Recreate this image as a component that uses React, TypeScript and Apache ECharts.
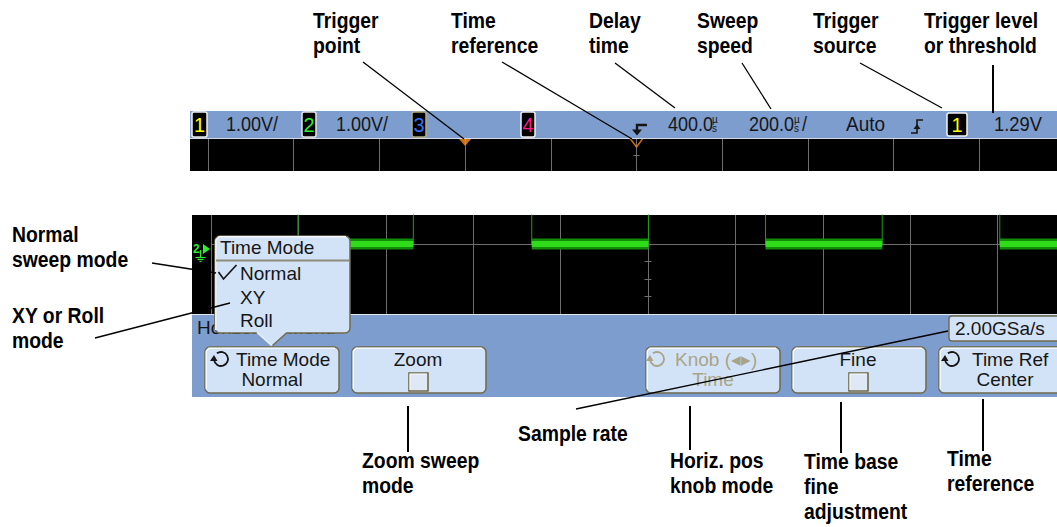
import { useEffect, useRef } from 'react';
import * as echarts from 'echarts';

// ---------------- data ----------------
const sweepStart = -600; // µs at left graticule edge
const sweepEnd = 1400; // µs at right graticule edge (10 div)
const timePerDiv = 200; // µs / div
const triggerTime = 0; // µs
const timeRefTime = 400; // µs (delay time, screen centre)
const edgeTimes = [-401, -137, 134, 401, 669, 936, 1205]; // µs, channel 2 transitions
const lowLevel = 0; // div
const highLevel = 3.3; // div (off screen)
const initialLevel = highLevel;
const minorTickLevels = [-0.2, -0.4, -0.6]; // div, ticks on centre line
const stripTickLevels = [0.5];

// ---------------- derived series ----------------
const wave: any[] = [];
{
  let lvl = initialLevel;
  wave.push([sweepStart, lvl]);
  edgeTimes.forEach((t) => {
    wave.push([t, lvl]);
    lvl = lvl === highLevel ? lowLevel : highLevel;
    wave.push([t, lvl]);
  });
  wave.push([sweepEnd, lvl]);
}
const band: any[] = [];
for (let i = 0; i < wave.length - 1; i++) {
  const [t0, v0] = wave[i];
  const [t1, v1] = wave[i + 1];
  if (v0 === lowLevel && v1 === lowLevel && t1 > t0) {
    band.push([t0, v0], [t1, v1], [t1, '-']);
  }
}

// visible part of the sweep (picture is cropped at its right edge)
const PX_PER_DIV_STRIP = 85.7;
const PX_PER_DIV_WAVE = 87.4;
const stripLeft = 208;
const waveLeft = 211;
const stripVisibleEnd = sweepStart + ((1057 - stripLeft) / PX_PER_DIV_STRIP) * timePerDiv;
const waveVisibleEnd = sweepStart + ((1057 - waveLeft) / PX_PER_DIV_WAVE) * timePerDiv;

// ---------------- styling helpers ----------------
const BLUE = '#7d9dcf';
const LIGHT = '#d3e3f7';
const OLIVE = '#6f6a4b';
const INK = '#161616';
const GRAY_TXT = '#a8a488';
const SF = '"Liberation Sans", Arial, sans-serif';
const SCREEN = `19px ${SF}`;
const STATUS = `20px ${SF}`;
const ANN = `bold 22px ${SF}`;

function T(text: string, x: number, y: number, o: any = {}) {
  const align = o.align || 'left';
  return {
    type: 'text', x, y, z: o.z ?? 12, scaleX: o.sx ?? 1, silent: true,
    style: {
      text, fill: o.fill || INK, font: o.font || SCREEN,
      textAlign: align, textVerticalAlign: 'middle', align, verticalAlign: 'middle',
    },
  };
}
function R(x: number, y: number, w: number, h: number, fill: string, o: any = {}) {
  const style: any = { fill };
  if (o.stroke) { style.stroke = o.stroke; style.lineWidth = o.lw ?? 1; }
  return { type: 'rect', z: o.z ?? 0, silent: true, shape: { x, y, width: w, height: h, r: o.r ?? 0 }, style };
}
function L(x1: number, y1: number, x2: number, y2: number, stroke = '#000', lw = 1.3, z = 20) {
  return { type: 'line', z, silent: true, shape: { x1, y1, x2, y2 }, style: { stroke, lineWidth: lw } };
}
function PL(points: number[][], stroke: string, lw: number, z: number) {
  return { type: 'polyline', z, silent: true, shape: { points }, style: { stroke, lineWidth: lw, fill: 'none' } };
}
function PG(points: number[][], fill: string, z: number) {
  return { type: 'polygon', z, silent: true, shape: { points }, style: { fill } };
}
function button(x: number, y: number, w: number, h: number) {
  return [
    R(x, y, w, h, LIGHT, { r: 5, stroke: OLIVE, lw: 1.5, z: 11 }),
    PL([[x + 1.2, y + h - 4], [x + 1.2, y + 4], [x + 4, y + 1.2], [x + w - 4, y + 1.2]], '#f6f9fd', 1.4, 11.5),
  ];
}
function checkbox(x: number, y: number) {
  return [
    R(x, y, 19, 18, '#dfe8f5', { stroke: OLIVE, lw: 1.6, z: 12 }),
    PL([[x + 1, y + 17], [x + 1, y + 1], [x + 18, y + 1]], '#f7f9fc', 1.2, 12.5),
  ];
}
function knobIcon(cx: number, cy: number, color: string) {
  return [
    { type: 'arc', z: 12, silent: true, shape: { cx, cy, r: 7, startAngle: Math.PI * 1.3, endAngle: Math.PI * 0.95, clockwise: true }, style: { stroke: color, lineWidth: 1.8, fill: 'none' } },
    PG([[cx - 11, cy + 2], [cx - 3.5, cy + 2], [cx - 7, cy - 4]], color, 12),
  ];
}
function chBox(x: number, y: number, w: number, h: number, color: string, label: string, border: string) {
  return [
    R(x, y, w, h, '#000', { r: 2, stroke: border, lw: 1.5, z: 2 }),
    T(label, x + w / 2, y + h / 2 + 0.5, { fill: color, align: 'center', z: 3, font: STATUS }),
  ];
}
function ann(lines: string[], x: number, y0: number) {
  return lines.map((s, i) => T(s, x, y0 + i * 25, { font: ANN, fill: '#000', sx: 0.88, z: 20 }));
}

const graphics: any[] = [
  // ---- top status bar + strip ----
  R(190, 111, 867, 27, BLUE, { z: 0 }),
  L(190, 138.5, 1057, 138.5, '#d4d9e3', 1, 0.5),
  R(190, 139, 867, 32, '#000', { z: 0 }),
  ...chBox(192, 112, 15, 25, '#ffff00', '1', '#eeeeee'),
  ...chBox(302, 112, 14, 25, '#30ee30', '2', '#e6e6e6'),
  ...chBox(412, 112, 14, 25, '#3470ff', '3', '#b4ac7c'),
  ...chBox(521, 112, 14, 25, '#ff1a8c', '4', '#f2f2f2'),
  ...chBox(947, 113, 20, 23, '#ffff00', '1', '#f4f4f4'),
  T('1.00V/', 226, 124, { sx: 0.9, z: 3, font: STATUS }),
  T('1.00V/', 336, 124, { sx: 0.9, z: 3, font: STATUS }),
  T('400.0', 668, 124, { sx: 0.9, z: 3, font: STATUS }),
  T('µ', 712, 119, { font: `10px ${SF}`, z: 3 }),
  T('s', 712, 128, { font: `10px ${SF}`, z: 3 }),
  T('200.0', 749, 124, { sx: 0.9, z: 3, font: STATUS }),
  T('µ', 794, 119, { font: `10px ${SF}`, z: 3 }),
  T('s', 794, 128, { font: `10px ${SF}`, z: 3 }),
  T('/', 802, 124, { sx: 0.9, z: 3, font: STATUS }),
  T('Auto', 846, 124, { sx: 0.95, z: 3, font: STATUS }),
  T('1.29V', 994, 124, { sx: 0.92, z: 3, font: STATUS }),
  // trigger edge symbol
  PL([[911, 133], [917, 133], [917, 120], [923, 120]], INK, 1.6, 3),
  PG([[913.5, 129], [920.5, 129], [917, 124]], INK, 3),
  // time reference symbol
  PL([[647, 125], [637, 125], [637, 131]], INK, 2.4, 3),
  PG([[632, 129.5], [642, 129.5], [637, 135.5]], INK, 3),

  // ---- waveform area ----
  R(192, 215, 865, 99, '#000', { z: 0 }),
  T('2', 193, 249, { font: `bold 12px ${SF}`, fill: '#30ee30', z: 5 }),
  PG([[203, 244], [210, 249], [203, 254]], '#30ee30', 5),
  L(200.5, 250, 200.5, 257, '#30ee30', 1.2, 5),
  L(195.5, 257.5, 205.5, 257.5, '#30ee30', 1.2, 5),
  L(197.5, 259.5, 203.5, 259.5, '#30ee30', 1.2, 5),
  L(199.5, 261.5, 201.5, 261.5, '#30ee30', 1.2, 5),

  // ---- bottom menu panel ----
  R(192, 314, 865, 83, BLUE, { z: 10 }),
  L(192, 314.5, 1057, 314.5, '#e2e6ee', 1, 10.5),
  T('Horizontal Menu', 197, 327, { z: 11 }),
  ...button(205, 347, 134, 46),
  ...button(352, 347, 134, 46),
  ...button(646, 347, 134, 46),
  ...button(792, 347, 134, 46),
  ...button(939, 347, 134, 46),
  ...knobIcon(221, 359, INK),
  T('Time Mode', 236, 359.5),
  T('Normal', 272, 379.5, { align: 'center' }),
  T('Zoom', 418, 359.5, { align: 'center' }),
  ...checkbox(409, 373),
  ...knobIcon(657, 359, GRAY_TXT),
  T('Knob (◂▸)', 675, 359.5, { fill: GRAY_TXT }),
  T('Time', 713, 379.5, { align: 'center', fill: GRAY_TXT }),
  T('Fine', 858, 359.5, { align: 'center' }),
  ...checkbox(849, 373),
  ...knobIcon(952, 359, INK),
  T('Time Ref', 972, 359.5),
  T('Center', 1005, 379.5, { align: 'center' }),
  R(949, 316, 115, 25, LIGHT, { r: 3, stroke: OLIVE, lw: 1.4, z: 11 }),
  T('2.00GSa/s', 955, 328.5),

  // ---- Time Mode popup ----
  R(215, 236, 135, 97, LIGHT, { r: 5, stroke: OLIVE, lw: 1.5, z: 13 }),
  PL([[215.8, 330], [215.8, 240], [219, 236.8], [346, 236.8]], '#f4f7fb', 1.4, 13.2),
  PG([[256, 331.5], [288, 331.5], [272, 346]], LIGHT, 13.4),
  L(287, 332.5, 272.5, 345.5, OLIVE, 1.4, 13.5),
  L(257, 332.5, 271.5, 345.5, '#eef3fa', 1.2, 13.5),
  T('Time Mode', 220, 247.5, { z: 14 }),
  L(216, 260.5, 349, 260.5, '#8e8c7c', 1.8, 14),
  PL([[218.5, 272], [223.5, 279], [236.5, 265]], INK, 1.7, 14),
  T('Normal', 240, 273.5, { z: 14 }),
  T('XY', 240, 297.5, { z: 14 }),
  T('Roll', 240, 320, { z: 14 }),

  // ---- annotations ----
  ...ann(['Trigger', 'point'], 313, 20.5),
  ...ann(['Time', 'reference'], 451, 20.5),
  ...ann(['Delay', 'time'], 589, 20.5),
  ...ann(['Sweep', 'speed'], 697, 20.5),
  ...ann(['Trigger', 'source'], 813, 20.5),
  ...ann(['Trigger level', 'or threshold'], 924, 20.5),
  ...ann(['Normal', 'sweep mode'], 12, 234),
  ...ann(['XY or Roll', 'mode'], 12, 315),
  ...ann(['Zoom sweep', 'mode'], 362, 460.5),
  ...ann(['Sample rate'], 518, 433.5),
  ...ann(['Horiz. pos', 'knob mode'], 670, 460.5),
  ...ann(['Time base', 'fine', 'adjustment'], 804, 461),
  ...ann(['Time', 'reference'], 947, 458.5),

  // leader lines
  L(363, 62, 464, 139),
  L(502, 62, 632, 139),
  L(615, 63, 675, 108),
  L(742, 63, 771, 109),
  L(860, 63, 942, 108),
  L(993, 65, 993, 113, '#000', 2),
  L(152, 263, 216, 273),
  L(95, 338, 230, 303),
  L(576, 409, 948, 331),
  L(408, 406, 408, 452, '#000', 2),
  L(690, 406, 690, 450, '#000', 2),
  L(841, 402, 841, 453, '#000', 2),
  L(983, 399, 983, 451, '#000', 2),
];

const gridLine = { show: true, lineStyle: { color: '#6e6e6e', width: 1, type: 'solid' } };
const axisBase = {
  type: 'value', min: sweepStart, interval: timePerDiv, z: 1,
  axisLine: { show: false }, axisTick: { show: false }, axisLabel: { show: false },
  splitLine: gridLine,
};

const option: any = {
  animation: false,
  backgroundColor: '#ffffff',
  grid: [
    { left: stripLeft, top: 139, right: 0, height: 32, show: false },
    { left: waveLeft, top: 215, right: 0, height: 99, show: false },
  ],
  xAxis: [
    { ...axisBase, gridIndex: 0, max: stripVisibleEnd },
    { ...axisBase, gridIndex: 1, max: waveVisibleEnd },
  ],
  yAxis: [
    { type: 'value', gridIndex: 0, min: 0, max: 1, show: false, splitLine: { show: false } },
    { type: 'value', gridIndex: 1, min: -0.8, max: 0.332, show: false, splitLine: { show: false } },
  ],
  series: [
    {
      type: 'scatter', xAxisIndex: 0, yAxisIndex: 0, z: 5, clip: false, silent: true,
      data: [[triggerTime, 1]], symbol: 'triangle', symbolRotate: 180, symbolSize: [12, 7], symbolOffset: [0, 3.5],
      itemStyle: { color: '#ff8c1a' },
    },
    {
      type: 'scatter', xAxisIndex: 0, yAxisIndex: 0, z: 5, clip: false, silent: true,
      data: [[timeRefTime, 1]], symbol: 'path://M0,0L5,6L10,0', symbolSize: [12, 8], symbolOffset: [0, 4],
      itemStyle: { color: 'transparent', borderColor: '#ff8c1a', borderWidth: 1.4 },
    },
    {
      type: 'line', xAxisIndex: 0, yAxisIndex: 0, z: 1, silent: true, symbol: 'none',
      data: [[timeRefTime, 0.5]], lineStyle: { width: 0, opacity: 0 },
      markLine: {
        silent: true, symbol: 'none', label: { show: false },
        lineStyle: { color: '#6e6e6e', width: 1, type: 'solid' },
        data: stripTickLevels.map((v) => [{ coord: [timeRefTime - 7, v] }, { coord: [timeRefTime + 7, v] }]),
      },
    },
    {
      type: 'line', xAxisIndex: 1, yAxisIndex: 1, z: 1, silent: true, symbol: 'none',
      data: [[timeRefTime, 0]], lineStyle: { width: 0, opacity: 0 },
      markLine: {
        silent: true, symbol: 'none', label: { show: false },
        lineStyle: { color: '#6e6e6e', width: 1, type: 'solid' },
        data: [
          { yAxis: 0 },
          ...minorTickLevels.map((v) => [{ coord: [timeRefTime - 8, v] }, { coord: [timeRefTime + 8, v] }]),
        ],
      },
    },
    {
      type: 'line', xAxisIndex: 1, yAxisIndex: 1, z: 3, silent: true, symbol: 'none',
      data: wave, lineStyle: { color: '#1ca012', width: 1 },
    },
    {
      type: 'line', xAxisIndex: 1, yAxisIndex: 1, z: 4, silent: true, symbol: 'none',
      data: band, lineStyle: { color: '#128a0a', width: 11, cap: 'butt' },
    },
    {
      type: 'line', xAxisIndex: 1, yAxisIndex: 1, z: 5, silent: true, symbol: 'none',
      data: band, lineStyle: { color: '#2fdc1a', width: 6, cap: 'butt' },
    },
  ],
  graphic: { elements: graphics },
};

export default function App() {
  const ref = useRef<HTMLDivElement>(null);
  useEffect(() => {
    if (!ref.current) return;
    const chart = echarts.init(ref.current, null, { renderer: 'svg' });
    chart.setOption(option);
    return () => chart.dispose();
  }, []);
  return (
    <div
      ref={ref}
      style={{ position: 'absolute', left: 0, top: 0, width: 1057, height: 527, background: '#fff' }}
    />
  );
}
